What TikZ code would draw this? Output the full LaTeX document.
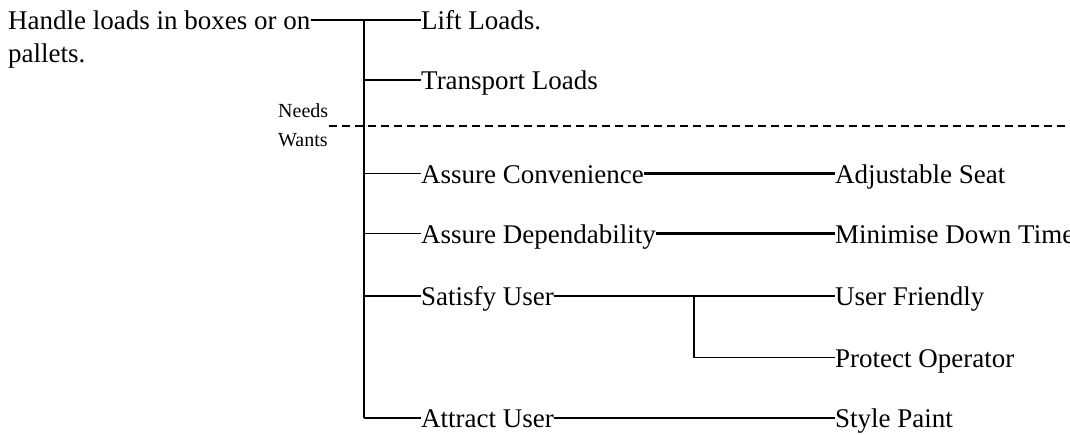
\documentclass[tikz,border=0pt]{standalone}
\usepackage{fontspec}
\setmainfont{Liberation Serif}
\begin{document}
\begin{tikzpicture}[x=1pt,y=-1pt,
  txt/.style={inner sep=0pt,anchor=west,font=\fontsize{27}{33}\selectfont,text height=19pt,text depth=0pt},
  small/.style={inner sep=0pt,anchor=base west,font=\fontsize{20}{24}\selectfont},
  thickln/.style={line width=2.8pt},
  thinln/.style={line width=1.8pt},
  midln/.style={line width=2.2pt},
  dashln/.style={line width=1.5pt,dash pattern=on 8pt off 5pt}]
\useasboundingbox (0,0) rectangle (1070,434);
% root
\node[inner sep=0pt,anchor=base west,align=left,font=\fontsize{27}{33}\selectfont] (root) at (8,62) {Handle loads in boxes or on\\pallets.};
% trunk coordinates
\coordinate (tt) at (364,20);
\coordinate (tb) at (364,418);
% first-level
\node[txt] (lift) at (421,20) {Lift Loads.};
\node[txt] (trans) at (421,80) {Transport Loads};
\node[txt] (ac) at (421,173.5) {Assure Convenience};
\node[txt] (ad) at (421,233.5) {Assure Dependability};
\node[txt] (su) at (421,296) {Satisfy User};
\node[txt] (au) at (421,418) {Attract User};
% second-level
\node[txt] (as) at (835,173.5) {Adjustable Seat};
\node[txt] (md) at (835,233.5) {Minimise Down Time};
\node[txt] (uf) at (835,296) {User Friendly};
\node[txt] (po) at (835,357.5) {Protect Operator};
\node[txt] (sp) at (835,418) {Style Paint};
% needs / wants
\node[small] (needs) at (278,117) {Needs};
\node[small] (wants) at (278,146.5) {Wants};
\coordinate (dl) at (329,126);
\coordinate (dr) at (1070,126);
\draw[dashln] (dl) -- (dr);
% root line and trunk
\draw[thickln] (root.east |- tt) -- (tt) -- (tb);
% branches
\foreach \n in {lift,trans,ac,ad,su,au}
  \draw[thinln] (tt |- \n.west) -- (\n.west);
% second-level connectors
\draw[midln] (ac.east) -- (as.west);
\draw[midln] (ad.east) -- (md.west);
\coordinate (j) at (694,296);
\draw[midln] (su.east) -- (j);
\draw[thinln] (j) -- (uf.west);
\draw[thinln] (j) |- (po.west);
\draw[midln] (au.east) -- (sp.west);
\end{tikzpicture}
\end{document}
